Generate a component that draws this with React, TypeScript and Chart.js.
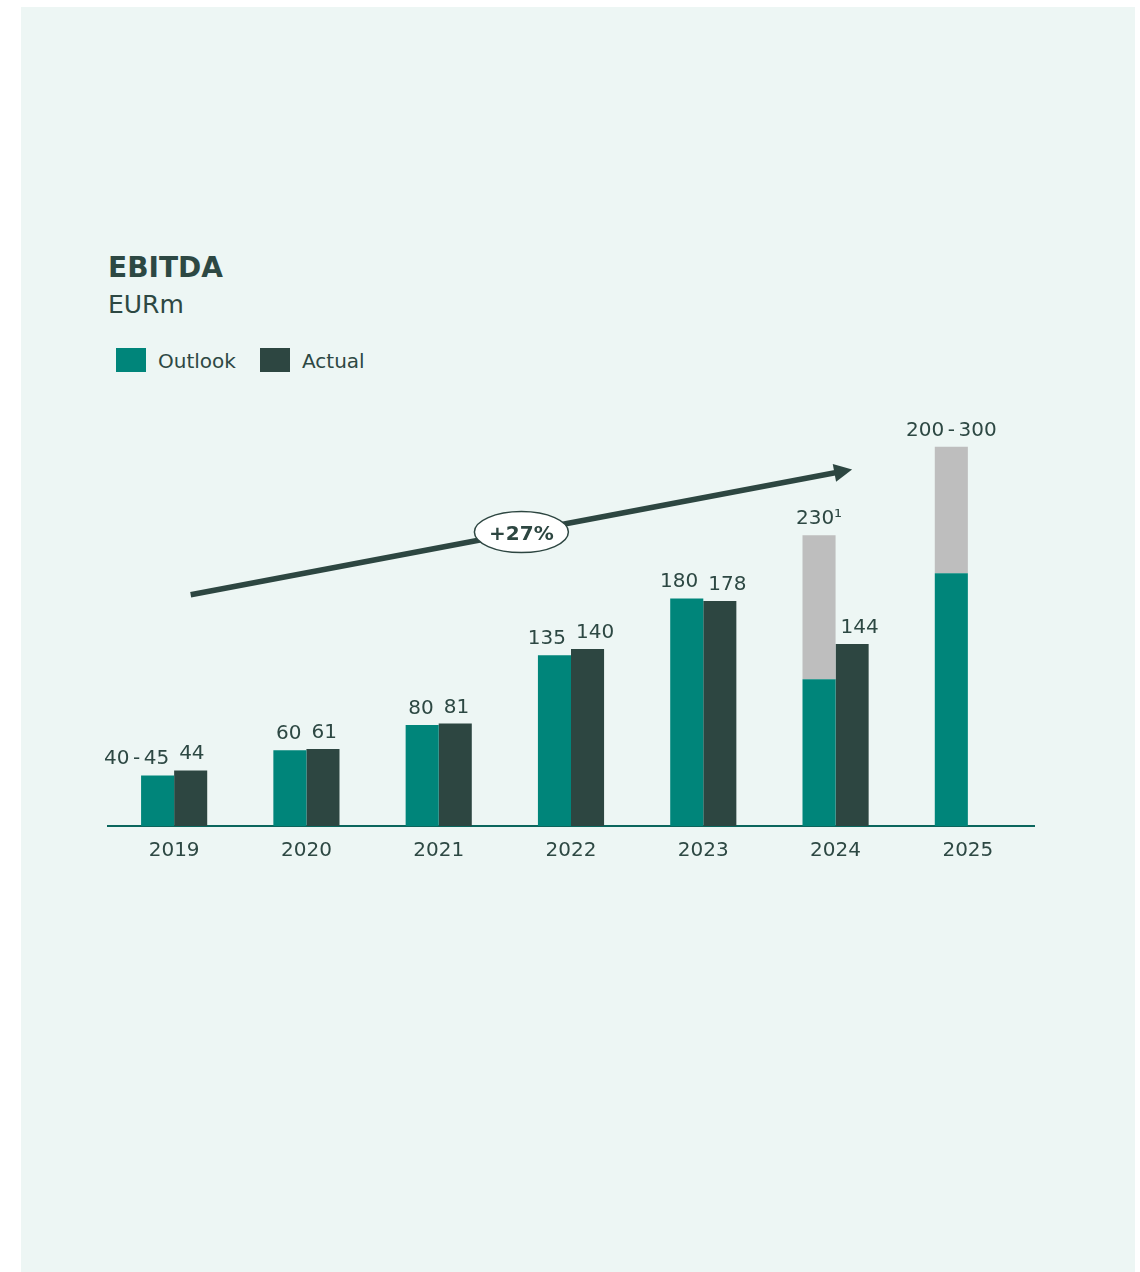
import React, { useEffect, useRef } from "react";
import { Chart, registerables } from "chart.js";

Chart.register(...registerables);

// ---- data ----
const categories = ["2019", "2020", "2021", "2022", "2023", "2024", "2025"];
const outlookValues = [40, 60, 80, 135, 180, 116, 200];
const outlookUpper: (number | null)[] = [null, null, null, null, null, 230, 300];
const actualValues: (number | null)[] = [44, 61, 81, 140, 178, 144, null];
const outlookLabels = ["40-45", "60", "80", "135", "180", "230¹", "200-300"];
const actualLabels = ["44", "61", "81", "140", "178", "144", ""];
const growthLabel = "+27%";
const arrowStartValue = 183; // at first category
const arrowEndValue = 282; // at sixth category
const arrowStartCat = 0;
const arrowEndCat = 5;

// ---- styles ----
const FONT = '"DejaVu Sans", sans-serif';
const TEAL = "#00857A";
const DARK = "#2D4641";
const GREY = "#BEBEBE";
const TEXT = "#2D4843";
const AXIS = "#0B665D";
const BG = "#EDF6F4";
const LABEL_GAP = 10;
const HYPHEN_PAD = 3.5;

const rangeValues = outlookUpper.map((u, i) => (u == null ? null : u - outlookValues[i]));

function measureLabel(ctx: CanvasRenderingContext2D, t: string) {
  if (!t.includes("-")) return ctx.measureText(t).width;
  const parts = t.split("-");
  return (
    parts.reduce((s, p) => s + ctx.measureText(p).width, 0) +
    (parts.length - 1) * (ctx.measureText("-").width + 2 * HYPHEN_PAD)
  );
}

function drawLabel(ctx: CanvasRenderingContext2D, t: string, cx: number, y: number) {
  const w = measureLabel(ctx, t);
  let x = cx - w / 2;
  ctx.textAlign = "left";
  const parts = t.split("-");
  parts.forEach((p, k) => {
    ctx.fillText(p, x, y);
    x += ctx.measureText(p).width;
    if (k < parts.length - 1) {
      x += HYPHEN_PAD;
      ctx.fillText("-", x, y);
      x += ctx.measureText("-").width + HYPHEN_PAD;
    }
  });
}

const labelPlugin = {
  id: "valueLabels",
  afterDatasetsDraw(chart: any) {
    const ctx = chart.ctx;
    const mO = chart.getDatasetMeta(0);
    const mR = chart.getDatasetMeta(1);
    const mA = chart.getDatasetMeta(2);
    ctx.save();
    ctx.font = `20px ${FONT}`;
    ctx.fillStyle = TEXT;
    ctx.textBaseline = "alphabetic";
    categories.forEach((_, i) => {
      const bO = mO.data[i];
      const hasRange = outlookUpper[i] != null;
      const top = hasRange ? mR.data[i].y : bO.y;
      const tO = outlookLabels[i];
      const hasActual = actualValues[i] != null && !!actualLabels[i];
      const bA = mA.data[i];
      const dist = hasActual ? bA.x - bO.x : 0;
      let cO = bO.x;
      if (hasActual && !hasRange) {
        const wO = measureLabel(ctx, tO);
        cO -= Math.max(0, (wO + LABEL_GAP - dist) / 2);
      }
      drawLabel(ctx, tO, cO, top - 11);
      if (hasActual) {
        const tA = actualLabels[i];
        const wA = measureLabel(ctx, tA);
        const cA = bA.x + Math.max(0, (wA + LABEL_GAP - dist) / 2);
        drawLabel(ctx, tA, cA, bA.y - 11);
      }
    });
    ctx.restore();
  },
};

const arrowPlugin = {
  id: "growthArrow",
  afterDraw(chart: any) {
    const ctx = chart.ctx;
    const xs = chart.scales.x;
    const ys = chart.scales.y;
    const half = chart.getDatasetMeta(2).data[0].width / 2;
    const x0 = xs.getPixelForValue(arrowStartCat) + half;
    const y0 = ys.getPixelForValue(arrowStartValue);
    const x1 = xs.getPixelForValue(arrowEndCat) + half;
    const y1 = ys.getPixelForValue(arrowEndValue);
    const len = Math.hypot(x1 - x0, y1 - y0);
    const dx = (x1 - x0) / len;
    const dy = (y1 - y0) / len;
    const head = 18;
    const hw = 9;
    ctx.save();
    ctx.strokeStyle = DARK;
    ctx.fillStyle = DARK;
    ctx.lineWidth = 5.5;
    ctx.lineCap = "butt";
    ctx.beginPath();
    ctx.moveTo(x0, y0);
    ctx.lineTo(x1 - dx * (head - 2), y1 - dy * (head - 2));
    ctx.stroke();
    const bx = x1 - dx * head;
    const by = y1 - dy * head;
    ctx.beginPath();
    ctx.moveTo(x1, y1);
    ctx.lineTo(bx - dy * hw, by + dx * hw);
    ctx.lineTo(bx + dy * hw, by - dx * hw);
    ctx.closePath();
    ctx.fill();
    // ellipse badge
    const cx = (x0 + x1) / 2;
    const cy = (y0 + y1) / 2;
    ctx.beginPath();
    ctx.ellipse(cx, cy, 47, 20.5, 0, 0, Math.PI * 2);
    ctx.fillStyle = "#FFFFFF";
    ctx.fill();
    ctx.lineWidth = 1.5;
    ctx.strokeStyle = DARK;
    ctx.stroke();
    ctx.fillStyle = DARK;
    ctx.font = `bold 20px ${FONT}`;
    ctx.textAlign = "center";
    ctx.textBaseline = "alphabetic";
    ctx.fillText(growthLabel, cx, cy + 7.5);
    ctx.restore();
  },
};

export default function App() {
  const ref = useRef<HTMLCanvasElement | null>(null);
  useEffect(() => {
    if (!ref.current) return;
    const chart = new Chart(ref.current, {
      type: "bar",
      data: {
        labels: categories,
        datasets: [
          { label: "Outlook", data: outlookValues, backgroundColor: TEAL, stack: "outlook", borderWidth: 0 },
          { label: "Outlook range", data: rangeValues as any, backgroundColor: GREY, stack: "outlook", borderWidth: 0 },
          { label: "Actual", data: actualValues as any, backgroundColor: DARK, stack: "actual", borderWidth: 0 },
        ],
      },
      options: {
        responsive: false,
        animation: false,
        maintainAspectRatio: false,
        layout: { padding: { left: 87, right: 101, top: 414.5, bottom: 406 } },
        datasets: { bar: { categoryPercentage: 0.5, barPercentage: 1 } },
        plugins: { legend: { display: false }, tooltip: { enabled: false }, title: { display: false } },
        scales: {
          x: {
            stacked: true,
            grid: { display: false, drawTicks: false },
            border: { display: true, color: AXIS, width: 2 },
            ticks: { color: TEXT, font: { family: FONT, size: 20 }, padding: 13 },
            afterFit: (s: any) => {
              s.height = 40;
            },
          },
          y: { stacked: true, display: false, min: 0, max: 320 },
        },
      },
      plugins: [labelPlugin, arrowPlugin],
    });
    return () => chart.destroy();
  }, []);

  const txt: React.CSSProperties = { position: "absolute", fontFamily: FONT, color: TEXT, lineHeight: 1, whiteSpace: "nowrap" };
  return (
    <div style={{ position: "absolute", left: 21, top: 7, width: 1114, height: 1265, background: BG }}>
      <div style={{ ...txt, left: 87, top: 247.3, fontSize: 28, fontWeight: "bold" }}>EBITDA</div>
      <div style={{ ...txt, left: 87, top: 284.5, fontSize: 25 }}>EURm</div>
      <div style={{ position: "absolute", left: 95, top: 341, width: 30, height: 24, background: TEAL }} />
      <div style={{ ...txt, left: 137, top: 344, fontSize: 20 }}>Outlook</div>
      <div style={{ position: "absolute", left: 239, top: 341, width: 30, height: 24, background: DARK }} />
      <div style={{ ...txt, left: 281, top: 344, fontSize: 20 }}>Actual</div>
      <canvas ref={ref} width={1114} height={1265} style={{ position: "absolute", left: 0, top: 0, width: 1114, height: 1265 }} />
    </div>
  );
}
